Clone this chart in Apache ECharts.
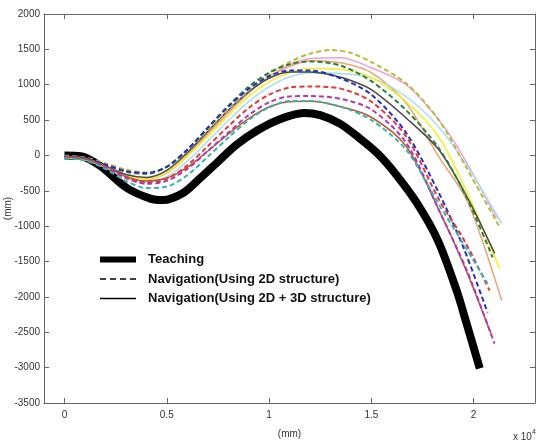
<!DOCTYPE html>
<html>
<head>
<meta charset="utf-8">
<script src="https://cdn.jsdelivr.net/npm/echarts@6/dist/echarts.min.js"></script>
<style>
  html, body { margin: 0; padding: 0; background: #fff; }
  #main { width: 536px; height: 445px; }
</style>
</head>
<body>
<div id="main"></div>
<script>
// teaching path (thick black)
const teaching = [[0,0],[800,-10],[1750,-150],[3050,-460],[4200,-610],[4800,-630],[5800,-530],[6600,-330],[7500,-90],[8400,150],[9400,350],[10500,510],[11700,600],[12500,570],[13460,450],[14400,250],[15300,30],[16100,-230],[17200,-660],[18250,-1200],[19170,-1910],[19660,-2380],[20300,-3010]];

// navigation runs, 2D structure (dashed)
const olive2D = [[0,0],[1000,-30],[2000,-110],[3000,-200],[4000,-240],[5000,-160],[6000,70],[7000,360],[8000,650],[9000,920],[10000,1150],[11000,1320],[12000,1440],[13000,1490],[14000,1450],[15000,1320],[16700,1020],[18300,500],[19600,-150],[21270,-1015]];
const green2D = [[0,-10],[1000,-40],[2000,-130],[3000,-230],[4000,-260],[5000,-160],[6000,80],[7000,390],[8000,700],[9000,970],[10000,1170],[11000,1290],[12000,1330],[13500,1270],[15000,1050],[16700,640],[18300,100],[19600,-560],[20930,-1440]];
const blue2D = [[0,-20],[1000,-40],[2000,-130],[3000,-220],[4000,-250],[5000,-160],[6000,80],[7000,390],[8000,690],[9000,940],[10000,1120],[11000,1200],[12000,1200],[13500,1090],[15000,860],[16700,320],[18300,-530],[19500,-1300],[20680,-2220]];
const red2D = [[0,-20],[1000,-50],[2000,-160],[3000,-300],[4000,-380],[5000,-330],[6000,-140],[7000,130],[8000,410],[9000,670],[10000,860],[11000,960],[12000,975],[13500,945],[15000,760],[16700,270],[18300,-620],[19600,-1230],[20780,-1910]];
const magenta2D = [[0,-30],[1000,-60],[2000,-170],[3000,-320],[4000,-400],[5000,-360],[6000,-190],[7000,60],[8000,320],[9000,570],[10000,750],[11000,835],[12000,840],[13500,800],[15000,650],[16700,180],[18300,-770],[19700,-1650],[21020,-2660]];
const teal2D = [[0,-40],[1000,-70],[2000,-190],[3000,-360],[4000,-460],[5000,-440],[6000,-280],[7000,-20],[8000,250],[9000,500],[10000,680],[11000,770],[12000,770],[13500,690],[15000,500],[16700,80],[18300,-690],[19500,-1250],[20680,-1810]];

// navigation runs, 2D + 3D structure (solid)
const pink3D = [[0,-20],[1000,-50],[2000,-150],[3000,-270],[4000,-330],[5000,-250],[6000,-10],[7000,300],[8000,600],[9000,880],[10000,1110],[11000,1280],[12000,1370],[13500,1380],[15000,1240],[16700,1000],[18300,500],[19500,-20],[21120,-890]];
const salmon3D = [[0,-20],[1000,-40],[2000,-150],[3000,-280],[4000,-330],[5000,-240],[6000,10],[7000,310],[8000,610],[9000,890],[10000,1110],[11000,1260],[12000,1340],[13500,1310],[15000,1170],[16700,740],[18300,-20],[19700,-650],[21370,-2050]];
const yellow3D = [[0,-30],[1000,-60],[2000,-160],[3000,-280],[4000,-330],[5000,-240],[6000,-10],[7000,270],[8000,560],[9000,830],[10000,1040],[11000,1170],[12000,1230],[13500,1220],[15000,1100],[16700,760],[18300,260],[19800,-600],[21270,-1600]];
const lightblue3D = [[0,-30],[1000,-60],[2000,-170],[3000,-310],[4000,-380],[5000,-300],[6000,-80],[7000,200],[8000,490],[9000,760],[10000,970],[11000,1110],[12000,1170],[13500,1160],[15000,1100],[16700,830],[18300,400],[19800,-200],[21370,-960]];
const gray3D = [[0,-20],[1000,-50],[2000,-150],[3000,-270],[4000,-310],[5000,-210],[6000,40],[7000,340],[8000,640],[9000,900],[10000,1090],[11000,1180],[12000,1180],[13000,1140],[14000,1060],[15000,930],[16700,530],[18300,80],[19700,-600],[21030,-1385]];
const brown3D = [[0,-10],[1000,-40],[2000,-150],[3000,-300],[4000,-360],[5000,-320],[6000,-170],[7000,60],[8000,300],[9000,520],[10000,685],[11000,760],[12000,765],[13500,690],[15000,540],[16700,130],[18300,-770],[19600,-1600],[20880,-2545]];

const xTicks = [0, 5000, 10000, 15000, 20000];
const legendNames = ['Teaching', 'Navigation(Using 2D structure)', 'Navigation(Using 2D + 3D structure)'];

const dashedRuns = [
  [olive2D, '#b8bb3c'], [green2D, '#2f7f3a'], [blue2D, '#2430c0'],
  [red2D, '#e23a3a'], [magenta2D, '#b236b8'], [teal2D, '#38b4b0']
];
const solidRuns = [
  [pink3D, '#f2a2cc'], [salmon3D, '#eaa474'], [lightblue3D, '#a6dcf2'],
  [yellow3D, '#f2f020'], [gray3D, '#4a4a4a'], [brown3D, '#b35c32']
];

const tickFont = { fontFamily: "'Liberation Sans', Arial", fontSize: 10, color: '#333' };
const axisLine = { show: true, onZero: false, lineStyle: { color: '#666', width: 1 } };

const myChart = echarts.init(document.getElementById('main'));

const series = [{
  name: 'Teaching', type: 'line', data: teaching, smooth: 0.3, symbol: 'none',
  lineStyle: { color: '#000', width: 8 }, itemStyle: { color: '#000' }, z: 2
}];
solidRuns.forEach(([d, c]) => series.push({
  type: 'line', data: d, smooth: 0.3, symbol: 'none', lineStyle: { color: c, width: 1.5 }, z: 3
}));
dashedRuns.forEach(([d, c]) => series.push({
  type: 'line', data: d, smooth: 0.3, symbol: 'none', lineStyle: { color: c, width: 2, type: [5, 3] }, z: 4
}));
// legend-only entries
series.push({ name: legendNames[1], type: 'line', data: [], symbol: 'none', lineStyle: { color: '#000', width: 1.5, type: [5, 3] }, itemStyle: { color: '#000' } });
series.push({ name: legendNames[2], type: 'line', data: [], symbol: 'none', lineStyle: { color: '#000', width: 1.5 }, itemStyle: { color: '#000' } });

myChart.setOption({
  animation: false,
  grid: { left: 44, right: 1, top: 14, bottom: 42, outerBoundsMode: 'none', containLabel: false },
  legend: {
    data: [
      { name: legendNames[0], lineStyle: { width: 6, color: '#000' } },
      { name: legendNames[1], lineStyle: { width: 1.5, color: '#000', type: [6, 4] } },
      { name: legendNames[2], lineStyle: { width: 1.5, color: '#000' } }
    ],
    orient: 'vertical', left: 92, top: 248,
    itemWidth: 36, itemHeight: 14, itemGap: 6.5,
    itemStyle: { color: 'rgba(0,0,0,0)', borderWidth: 0, opacity: 0 },
    textStyle: { fontFamily: "'Liberation Sans', Arial", fontWeight: 'bold', fontSize: 13, color: '#111', padding: [0, 0, 0, 7] }
  },
  xAxis: [{
    type: 'value', min: -1000, max: 23000, interval: 1000, position: 'bottom',
    name: '(mm)', nameLocation: 'middle', nameGap: 26, nameMoveOverlap: false,
    nameTextStyle: { fontFamily: tickFont.fontFamily, fontSize: 10, color: '#333' },
    axisLine: axisLine,
    axisTick: { show: true, inside: true, length: 5, customValues: xTicks, lineStyle: { color: '#666' } },
    axisLabel: { customValues: xTicks, margin: 7, formatter: v => String(v / 10000), ...tickFont },
    splitLine: { show: false }
  }, {
    type: 'value', min: -1000, max: 23000, interval: 1000, position: 'top',
    axisLine: axisLine,
    axisTick: { show: true, inside: true, length: 5, customValues: xTicks, lineStyle: { color: '#666' } },
    axisLabel: { show: false }, splitLine: { show: false }
  }],
  yAxis: [{
    type: 'value', min: -3500, max: 2000, interval: 500, position: 'left',
    name: '(mm)', nameLocation: 'middle', nameGap: 31, nameRotate: 90, nameMoveOverlap: false,
    nameTextStyle: { fontFamily: tickFont.fontFamily, fontSize: 10, color: '#333' },
    axisLine: axisLine,
    axisTick: { show: true, inside: true, length: 5, lineStyle: { color: '#666' } },
    axisLabel: { margin: 4, formatter: v => String(v), ...tickFont },
    splitLine: { show: false }
  }, {
    type: 'value', min: -3500, max: 2000, interval: 500, position: 'right',
    axisLine: axisLine,
    axisTick: { show: true, inside: true, length: 5, lineStyle: { color: '#666' } },
    axisLabel: { show: false }, splitLine: { show: false }
  }],
  graphic: [{
    type: 'text', left: 513, top: 429,
    style: {
      text: '{a|x 10}{b|4}',
      rich: {
        a: { fontFamily: tickFont.fontFamily, fontSize: 10, fill: '#333', verticalAlign: 'bottom' },
        b: { fontFamily: tickFont.fontFamily, fontSize: 7, fill: '#333', verticalAlign: 'top', padding: [0, 0, 6, 0] }
      }
    }
  }],
  series: series
});
</script>
</body>
</html>
